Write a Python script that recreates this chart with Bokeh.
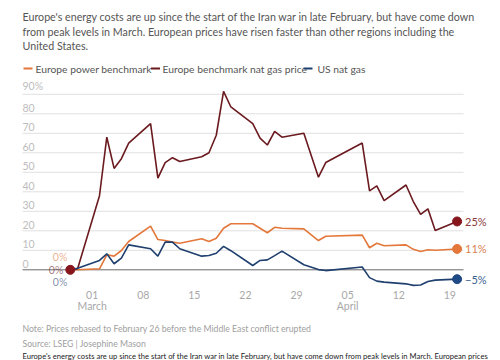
from datetime import datetime
from bokeh.plotting import figure
from bokeh.models import Range1d, Label, BoxAnnotation
from bokeh.embed import file_html
from bokeh.resources import INLINE

# ---------------- data ----------------
dates = ["2026-02-26", "2026-02-27", "2026-03-02", "2026-03-03", "2026-03-04", "2026-03-05", "2026-03-06",
         "2026-03-09", "2026-03-10", "2026-03-11", "2026-03-12", "2026-03-13",
         "2026-03-16", "2026-03-17", "2026-03-18", "2026-03-19", "2026-03-20",
         "2026-03-23", "2026-03-24", "2026-03-25", "2026-03-26", "2026-03-27",
         "2026-03-30", "2026-04-01", "2026-04-02",
         "2026-04-07", "2026-04-08", "2026-04-09", "2026-04-10",
         "2026-04-13", "2026-04-14", "2026-04-15", "2026-04-16", "2026-04-17", "2026-04-20"]
power = [0, 0, 0.5, 7.7, 7.0, 9.9, 14.5, 22.4, 15.5, 15.0, 14.2, 13.6, 15.9, 14.5, 16.2, 21.3, 23.6,
         23.6, 21.3, 19.0, 21.8, 21.3, 21.0, 15.0, 17.2, 17.8, 11.3, 13.6, 12.3, 12.8, 10.5, 9.4, 10.3, 10.0, 10.7]
gas = [0, 0.5, 38, 68, 52, 57, 65, 75, 47, 55, 57.5, 55.5, 58, 60, 69, 91.5, 83.5,
       75, 67.5, 64, 71, 68, 70, 47.5, 55, 65, 40.5, 43, 35.5, 43.5, 35, 28.4, 31.3, 20.1, 24.8]
us = [0, 0.8, 4.8, 8.2, 3.1, 6.0, 12.8, 10.8, 7.0, 14.2, 14.2, 10.8, 7.0, 7.3, 8.5, 12.0, 9.8,
      2.2, 4.8, 5.1, 7.3, 9.6, 2.6, 0.1, -0.4, 1.4, -4.0, -5.8, -6.3, -7.2, -8.0, -7.8, -6.0, -5.3, -4.8]
series_names = ["Europe power benchmark", "Europe benchmark nat gas price", "US nat gas"]
end_labels = ["11%", "25%", "\u22125%"]
start_labels = ["0%", "0%", "0%"]
y_ticks = [0, 10, 20, 30, 40, 50, 60, 70, 80, 90]
y_tick_labels = ["0", "10", "20", "30", "40", "50", "60", "70", "80", "90%"]
x_tick_dates = ["2026-03-01", "2026-03-08", "2026-03-15", "2026-03-22", "2026-03-29",
                "2026-04-05", "2026-04-12", "2026-04-19"]
x_tick_labels = ["01", "08", "15", "22", "29", "05", "12", "19"]
month_dates = ["2026-03-01", "2026-04-05"]
month_labels = ["March", "April"]

subtitle = ["Europe's energy costs are up since the start of the Iran war in late February, but have come down",
            "from peak levels in March. European prices have risen faster than other regions including the",
            "United States."]
note = "Note: Prices rebased to February 26 before the Middle East conflict erupted"
source = "Source: LSEG | Josephine Mason"
footer = ("Europe's energy costs are up since the start of the Iran war in late February, "
          "but have come down from peak levels in March. European prices")

# ---------------- styling ----------------
FONT = "Lato"
C_POWER = "#e4773a"
C_GAS = "#6b1a1f"
C_US = "#1f3f6e"
colors = [C_POWER, C_GAS, C_US]
dot_colors = ["#e4773a", "#86161c", "#1f4a86"]
label_colors = ["#d9804f", "#8a3a3a", "#3a5f8f"]

W, H = 500, 360


def dt(s):
    return datetime.strptime(s, "%Y-%m-%d")


def ms(s):
    return dt(s).timestamp() * 1000.0


DAY = 86400000.0
x_dates = [dt(d) for d in dates]
mar1 = ms("2026-03-01")
PX_DAY = 7.298      # pixels per day
X_MAR1 = 91.7       # canvas x of March 1
PX_PCT = 1.95       # pixels per percentage point
Y_ZERO = 269.3      # canvas y of 0 %
GRID_L, GRID_R = 22, 463

x0 = mar1 - X_MAR1 / PX_DAY * DAY
x1 = mar1 + (W - X_MAR1) / PX_DAY * DAY
y_top = Y_ZERO / PX_PCT
y_bot = -(H - Y_ZERO) / PX_PCT
grid_left = mar1 - (X_MAR1 - GRID_L) / PX_DAY * DAY
grid_right = mar1 + (GRID_R - X_MAR1) / PX_DAY * DAY

# frame covers the whole canvas so that nothing is clipped
p = figure(width=W, height=H, output_backend="svg", toolbar_location=None, title=None,
           x_axis_type="datetime", x_axis_location=None, y_axis_location=None,
           x_range=Range1d(x0, x1), y_range=Range1d(y_bot, y_top),
           min_border_left=0, min_border_right=0, min_border_top=0, min_border_bottom=0)
p.outline_line_color = None
p.background_fill_color = "white"
p.border_fill_color = "white"
p.xgrid.visible = False
p.ygrid.visible = False

# horizontal grid lines
grid_y = [v for v in y_ticks if v != 0]
p.segment(x0=[grid_left] * len(grid_y), x1=[grid_right] * len(grid_y), y0=grid_y, y1=grid_y,
          line_color="#e0e0e0", line_width=1)
p.segment(x0=[grid_left], x1=[grid_right], y0=[0], y1=[0], line_color="#6a6a6a", line_width=1)

for v, lab in zip(y_ticks, y_tick_labels):
    p.text(x=[grid_left], y=[v], text=[lab], y_offset=-2,
           text_font={"value": FONT}, text_font_size="10.5px", text_color="#bdbdbd",
           text_baseline="bottom", text_align="left")

# x tick labels
for d, lab in zip(x_tick_dates, x_tick_labels):
    p.add_layout(Label(x=ms(d), y=294, y_units="canvas", text=lab,
                       text_font=FONT, text_font_size="10.5px", text_color="#a8a8a8",
                       text_baseline="middle", text_align="center"))
for d, lab in zip(month_dates, month_labels):
    p.add_layout(Label(x=ms(d), y=305.5, y_units="canvas", text=lab,
                       text_font=FONT, text_font_size="10.5px", text_color="#a8a8a8",
                       text_baseline="middle", text_align="center"))

all_series = [power, gas, us]
for vals, c in zip(all_series, colors):
    p.line(x_dates, vals, line_color=c, line_width=1.6)

# end dots and labels
for vals, dc, lc, lab in zip(all_series, dot_colors, label_colors, end_labels):
    p.scatter([x_dates[-1]], [vals[-1]], size=9, fill_color=dc, line_color=dc)
    p.add_layout(Label(x=ms(dates[-1]), y=vals[-1], text=lab, x_offset=8,
                       text_font=FONT, text_font_size="11px", text_color=lc,
                       text_baseline="middle", text_align="left"))

# start labels and dot
offs = [(-3, 13), (-7, 0), (-3, -12)]
for vals, c, lab, (dx, dy) in zip(all_series, colors, start_labels, offs):
    p.add_layout(Label(x=ms(dates[0]), y=vals[0], text=lab, x_offset=dx, y_offset=dy,
                       text_font=FONT, text_font_size="10.5px", text_color=c,
                       text_baseline="middle", text_align="right", text_alpha=0.6))
p.scatter([x_dates[0]], [gas[0]], size=9, fill_color="#86161c", line_color="#86161c")

# subtitle
for i, line in enumerate(subtitle):
    p.add_layout(Label(x=22, y=16 + 14.7 * i, x_units="canvas", y_units="canvas", text=line,
                       text_font=FONT, text_font_size="10.7px", text_color="#555555",
                       text_baseline="middle", text_align="left"))

# legend
leg_sw = [23, 150.5, 303]
leg_tx = [35, 162, 317]
for lx, tx, name, c in zip(leg_sw, leg_tx, series_names, colors):
    p.add_layout(BoxAnnotation(left=lx, right=lx + 9, top=67, bottom=69,
                               left_units="canvas", right_units="canvas",
                               top_units="canvas", bottom_units="canvas",
                               fill_color=c, fill_alpha=1, line_color=None))
    p.add_layout(Label(x=tx, y=68, x_units="canvas", y_units="canvas", text=name,
                       text_font=FONT, text_font_size="10.3px", text_color="#555555",
                       text_baseline="middle", text_align="left"))

# footnotes
p.add_layout(Label(x=22, y=328, x_units="canvas", y_units="canvas", text=note,
                   text_font=FONT, text_font_size="8.7px", text_color="#a0a0a0",
                   text_baseline="middle", text_align="left"))
p.add_layout(Label(x=22, y=343, x_units="canvas", y_units="canvas", text=source,
                   text_font=FONT, text_font_size="8.7px", text_color="#a0a0a0",
                   text_baseline="middle", text_align="left"))
p.add_layout(Label(x=22, y=355, x_units="canvas", y_units="canvas", text=footer,
                   text_font=FONT, text_font_size="7.6px", text_color="#222222",
                   text_baseline="middle", text_align="left"))

open("out.html", "w").write(file_html(p, INLINE))
